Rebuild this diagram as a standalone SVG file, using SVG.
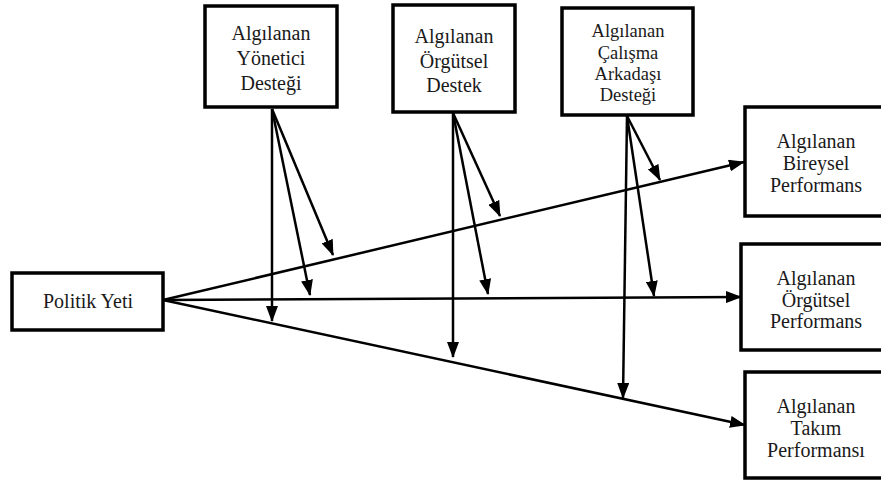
<svg xmlns="http://www.w3.org/2000/svg" width="881" height="483" viewBox="0 0 881 483">
<style>
.box{fill:#fff;stroke:#000;stroke-width:3.5}
.t{font-family:"Liberation Serif","Times New Roman",serif;font-size:20px;fill:#1a1a1a;text-anchor:middle}
.s{font-size:18.5px}
.c{stroke:#000;stroke-width:2.5;fill:none;marker-end:url(#ah)}
</style>
<defs>
<marker id="ah" markerUnits="userSpaceOnUse" markerWidth="16" markerHeight="12" viewBox="0 0 16 12" refX="15" refY="6" orient="auto">
<path d="M0,0 L16,6 L0,12 Z" fill="#000"/>
</marker>
</defs>
<rect width="881" height="483" fill="#fff"/>
<g id="connectors">
<line class="c" x1="163" y1="300" x2="744" y2="162"/>
<line class="c" x1="163" y1="300" x2="741" y2="297"/>
<line class="c" x1="163" y1="300" x2="745" y2="425"/>
<line class="c" x1="272" y1="109" x2="333" y2="255"/>
<line class="c" x1="272" y1="109" x2="310" y2="295"/>
<line class="c" x1="272" y1="109" x2="272" y2="321"/>
<line class="c" x1="453" y1="113" x2="500" y2="216"/>
<line class="c" x1="453" y1="113" x2="488" y2="294"/>
<line class="c" x1="453" y1="113" x2="453" y2="357"/>
<line class="c" x1="627" y1="116" x2="660" y2="180"/>
<line class="c" x1="627" y1="116" x2="654" y2="296"/>
<line class="c" x1="627" y1="116" x2="623" y2="398"/>
</g>
<g id="politik">
<rect class="box" x="12" y="273" width="151" height="57"/>
<text class="t" x="88" y="308">Politik Yeti</text>
</g>
<g id="yonetici">
<rect class="box" x="205" y="6" width="132" height="101"/>
<text class="t" x="271" y="40">Algılanan</text>
<text class="t" x="271" y="65">Yönetici</text>
<text class="t" x="271" y="90">Desteği</text>
</g>
<g id="orgutsel-destek">
<rect class="box" x="393" y="5" width="122" height="107"/>
<text class="t" x="454" y="43">Algılanan</text>
<text class="t" x="454" y="68">Örgütsel</text>
<text class="t" x="454" y="92">Destek</text>
</g>
<g id="calisma">
<rect class="box" x="562" y="8" width="131" height="107"/>
<text class="t s" x="628" y="37">Algılanan</text>
<text class="t s" x="628" y="59">Çalışma</text>
<text class="t s" x="628" y="80">Arkadaşı</text>
<text class="t s" x="628" y="101">Desteği</text>
</g>
<g id="bireysel">
<rect class="box" x="745" y="107" width="140" height="109"/>
<text class="t" x="816" y="148">Algılanan</text>
<text class="t" x="816" y="170">Bireysel</text>
<text class="t" x="816" y="192">Performans</text>
</g>
<g id="orgutsel-performans">
<rect class="box" x="741" y="244" width="144" height="106"/>
<text class="t" x="816" y="285">Algılanan</text>
<text class="t" x="816" y="307">Örgütsel</text>
<text class="t" x="816" y="328">Performans</text>
</g>
<g id="takim">
<rect class="box" x="745" y="372" width="140" height="106"/>
<text class="t" x="816" y="413">Algılanan</text>
<text class="t" x="816" y="435">Takım</text>
<text class="t" x="816" y="457">Performansı</text>
</g>
</svg>
